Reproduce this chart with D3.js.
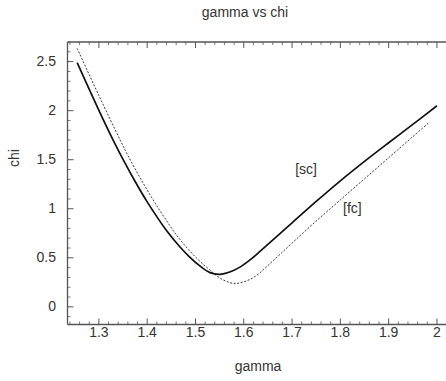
<!DOCTYPE html>
<html>
<head>
<meta charset="utf-8">
<script src="https://cdn.jsdelivr.net/npm/d3@7"></script>
<style>
  html, body { margin: 0; padding: 0; background: #fff; }
  svg { display: block; font-family: "Liberation Sans", Arial, sans-serif; }
</style>
</head>
<body>
<svg id="chart" width="446" height="381"></svg>
<script>
// ---- data ----
const gammaSc = [1.255,1.30,1.33,1.35,1.375,1.40,1.44,1.468,1.488,1.509,1.530,1.551,1.571,1.592,1.613,1.633,1.654,1.675,1.70,1.75,1.80,1.85,1.90,1.95,2.0];
const chiSc   = [2.49,2.004,1.695,1.503,1.278,1.070,0.778,0.610,0.508,0.418,0.349,0.332,0.355,0.405,0.479,0.563,0.655,0.747,0.857,1.075,1.285,1.483,1.673,1.86,2.05];
const gammaFc = [1.255,1.30,1.3435,1.36,1.388,1.42,1.454,1.468,1.488,1.509,1.530,1.551,1.571,1.582,1.592,1.613,1.633,1.654,1.675,1.70,1.75,1.80,1.85,1.90,1.95,1.985];
const chiFc   = [2.635,2.154,1.706,1.544,1.292,1.030,0.778,0.686,0.570,0.465,0.375,0.292,0.247,0.237,0.244,0.28,0.345,0.44,0.535,0.65,0.875,1.09,1.305,1.52,1.735,1.885];
const xTicks = [1.3,1.4,1.5,1.6,1.7,1.8,1.9,2.0];
const xTickLabels = ["1.3","1.4","1.5","1.6","1.7","1.8","1.9","2"];
const yTicks = [0,0.5,1,1.5,2,2.5];
const yTickLabels = ["0","0.5","1","1.5","2","2.5"];
const seriesLabels = ["[sc]","[fc]"];
const labelPos = [[1.729,1.35],[1.825,0.96]];
const title = "gamma vs chi";
const xTitle = "gamma";
const yTitle = "chi";

// ---- scales ----
const x = d3.scaleLinear().domain([1.235, 2.02]).range([67.5, 446.6]);
const y = d3.scaleLinear().domain([-0.18, 2.7]).range([324.5, 42]);
const svg = d3.select("#chart");
const frameColor = "#555";
const textColor = "#333";

const [x0, x1] = x.range();
const [y0, y1] = y.range();

// frame lines
svg.append("line").attr("x1", x0).attr("x2", x1).attr("y1", y0).attr("y2", y0)
  .attr("stroke", frameColor).attr("stroke-width", 1.3);
svg.append("line").attr("x1", x0).attr("x2", x1).attr("y1", y1).attr("y2", y1)
  .attr("stroke", frameColor).attr("stroke-width", 1.3);
svg.append("line").attr("x1", x0).attr("x2", x0).attr("y1", y0).attr("y2", y1)
  .attr("stroke", frameColor).attr("stroke-width", 1.3);

// x ticks
const xMinor = d3.range(1.24, 2.021, 0.02).filter(v => !xTicks.some(t => Math.abs(t - v) < 1e-6));
const xMajLen = 6, xMinLen = 3;
xTicks.forEach((t, i) => {
  svg.append("line").attr("x1", x(t)).attr("x2", x(t)).attr("y1", y0).attr("y2", y0 - xMajLen)
    .attr("stroke", frameColor).attr("stroke-width", 1);
  svg.append("line").attr("x1", x(t)).attr("x2", x(t)).attr("y1", y1).attr("y2", y1 + xMajLen)
    .attr("stroke", frameColor).attr("stroke-width", 1);
  svg.append("text").attr("x", x(t)).attr("y", y0 + 12.5)
    .attr("text-anchor", "middle").attr("font-size", 14).attr("fill", textColor)
    .text(xTickLabels[i]);
});
xMinor.forEach(t => {
  svg.append("line").attr("x1", x(t)).attr("x2", x(t)).attr("y1", y0).attr("y2", y0 - xMinLen)
    .attr("stroke", frameColor).attr("stroke-width", 0.8);
  svg.append("line").attr("x1", x(t)).attr("x2", x(t)).attr("y1", y1).attr("y2", y1 + xMinLen)
    .attr("stroke", frameColor).attr("stroke-width", 0.8);
});

// y ticks
const yMinor = d3.range(-0.1, 2.71, 0.1).filter(v => !yTicks.some(t => Math.abs(t - v) < 1e-6));
yTicks.forEach((t, i) => {
  svg.append("line").attr("x1", x0).attr("x2", x0 + 6).attr("y1", y(t)).attr("y2", y(t))
    .attr("stroke", frameColor).attr("stroke-width", 1);
  svg.append("text").attr("x", 56).attr("y", y(t)).attr("dy", "0.33em")
    .attr("text-anchor", "end").attr("font-size", 14).attr("fill", textColor)
    .text(yTickLabels[i]);
});
yMinor.forEach(t => {
  svg.append("line").attr("x1", x0).attr("x2", x0 + 3).attr("y1", y(t)).attr("y2", y(t))
    .attr("stroke", frameColor).attr("stroke-width", 0.8);
});

// curves
const line = d3.line().x(d => x(d[0])).y(d => y(d[1])).curve(d3.curveCatmullRom.alpha(0.5));
const sc = gammaSc.map((g, i) => [g, chiSc[i]]);
const fc = gammaFc.map((g, i) => [g, chiFc[i]]);
svg.append("path").attr("d", line(fc)).attr("fill", "none")
  .attr("stroke", "#222").attr("stroke-width", 0.9).attr("stroke-dasharray", "2,1.6");
svg.append("path").attr("d", line(sc)).attr("fill", "none")
  .attr("stroke", "#111").attr("stroke-width", 1.7);

// series labels
seriesLabels.forEach((s, i) => {
  svg.append("text").attr("x", x(labelPos[i][0])).attr("y", y(labelPos[i][1]))
    .attr("text-anchor", "middle").attr("font-size", 14).attr("fill", textColor).text(s);
});

// titles
svg.append("text").attr("x", 245).attr("y", 17).attr("text-anchor", "middle")
  .attr("font-size", 14).attr("fill", textColor).text(title);
svg.append("text").attr("x", 258).attr("y", 371).attr("text-anchor", "middle")
  .attr("font-size", 14).attr("fill", textColor).text(xTitle);
svg.append("text").attr("transform", "translate(19,158) rotate(-90)").attr("text-anchor", "middle")
  .attr("font-size", 14).attr("fill", textColor).text(yTitle);
</script>
</body>
</html>
